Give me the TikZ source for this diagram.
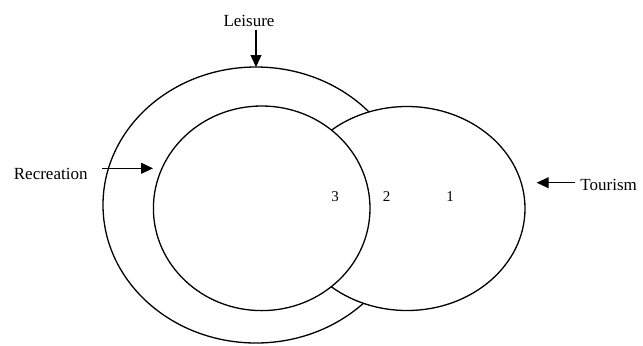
\documentclass[tikz,border=0pt]{standalone}
\usepackage{fontspec}
\setmainfont{Liberation Serif}
\usetikzlibrary{arrows.meta,shapes.geometric,positioning}

\begin{document}
\begin{tikzpicture}[
  x=0.5pt,y=-0.5pt,
  ring/.style={draw,ellipse,fill=white,line width=0.65pt,inner sep=0pt,outer sep=0pt},
  tag/.style={font=\fontsize{8.5}{10}\selectfont,inner sep=1pt},
  zone/.style={font=\fontsize{7.5}{9}\selectfont,inner sep=1pt},
  pointer/.style={line width=0.6pt,-{Triangle[length=6pt,width=5.5pt]}}
]
  \useasboundingbox (0,0) rectangle (643,345);

  \node[ring,minimum width=153pt,minimum height=138pt] (leisure) at (256,205) {};
  \node[ring,minimum width=118pt,minimum height=102pt] (tourism) at (407,208.5) {};
  \node[ring,minimum width=108.3pt,minimum height=102.3pt] (recreation) at (261.7,208.3) {};

  \node[tag] (leisuretag) at (249,20.7) {Leisure};
  \node[tag] (recreationtag) at (50.7,174) {Recreation};
  \node[tag,anchor=west] (tourismtag) at (578,185) {Tourism};

  \node[zone] (zone3) at (335,197) {3};
  \node[zone] (zone2) at (386.7,197) {2};
  \node[zone] (zone1) at (450,197) {1};

  \coordinate (recreationtip) at (153,168.3);
  \coordinate (tourismtip) at (536.7,182.7);

  \draw[pointer,shorten <=0.5pt] (leisuretag.south -| leisure.north) -- (leisure.north);
  \draw[pointer,shorten <=6pt] (recreationtag.east |- recreationtip) -- (recreationtip);
  \draw[pointer,shorten <=1.5pt] (tourismtag.west |- tourismtip) -- (tourismtip);
\end{tikzpicture}
\end{document}
